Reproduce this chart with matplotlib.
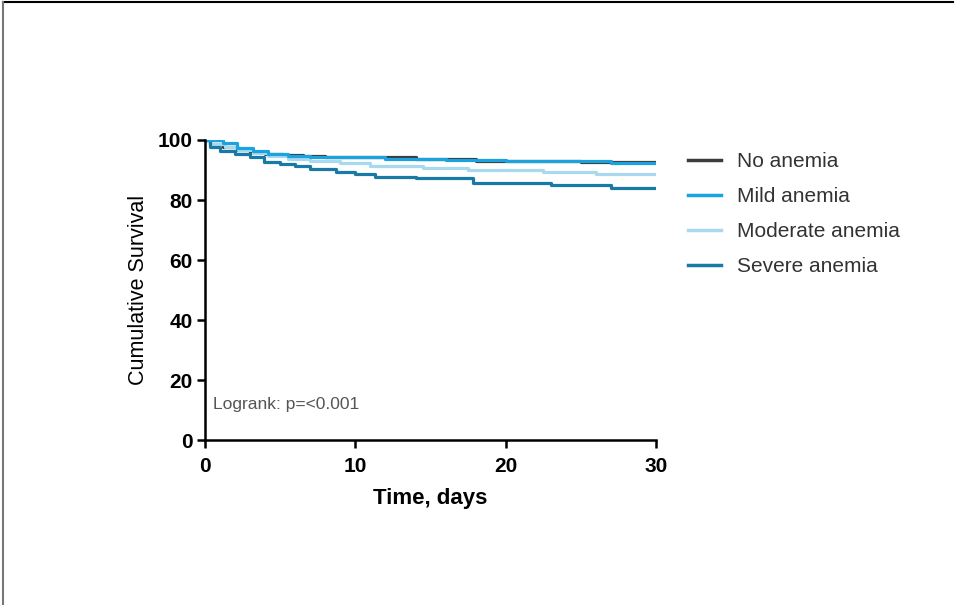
import matplotlib.pyplot as plt
from matplotlib.lines import Line2D

plt.rcParams['font.family'] = ['Liberation Sans', 'DejaVu Sans']

# Kaplan-Meier steps (days, % surviving)
t_none = [0, 0.3, 1.2, 2.1, 3.0, 4.0, 5.2, 6.5, 8.0, 10.5, 14.0, 18.0, 25.0, 30]
s_none = [100, 98.7, 97.8, 96.5, 96.0, 95.4, 95.0, 94.7, 94.4, 94.2, 93.6, 93.0, 92.8, 92.6]

t_mild = [0, 1.2, 2.1, 3.2, 4.2, 5.5, 7.0, 9.0, 12.0, 16.0, 20.0, 27.0, 30]
s_mild = [100, 99.1, 97.3, 96.2, 95.4, 94.8, 94.4, 94.2, 93.8, 93.4, 93.0, 92.4, 92.3]

t_mod = [0, 0.3, 1.3, 2.2, 3.2, 4.2, 5.5, 7.0, 9.0, 11.0, 14.5, 17.5, 22.5, 26.0, 30]
s_mod = [100, 98.6, 97.8, 96.6, 95.6, 94.6, 93.8, 93.0, 92.2, 91.3, 90.6, 90.0, 89.2, 88.6, 88.3]

t_sev = [0, 0.3, 1.0, 2.0, 3.0, 3.9, 5.0, 6.0, 7.0, 8.7, 10.0, 11.3, 14.0, 17.8, 23.0, 27.0, 30]
s_sev = [100, 97.6, 96.3, 95.2, 94.2, 92.8, 92.0, 91.2, 90.3, 89.4, 88.5, 87.7, 87.2, 85.8, 85.0, 84.1, 84.0]

labels = ['No anemia', 'Mild anemia', 'Moderate anemia', 'Severe anemia']
colors = ['#3c3c3c', '#1aa3de', '#a9d9ef', '#1a7aa6']

fig = plt.figure(figsize=(9.55, 6.05), dpi=100)
ax = fig.add_axes([0.2147, 0.2727, 0.4723, 0.4959])

series = [(t_none, s_none), (t_mod, s_mod), (t_sev, s_sev), (t_mild, s_mild)]
order = [0, 2, 3, 1]
for (t, s), i in zip(series, order):
    ax.step(t, s, where='post', color=colors[i], lw=2.3, solid_capstyle='butt')

ax.set_xlim(0, 30)
ax.set_ylim(0, 100)
ax.set_xticks([0, 10, 20, 30])
ax.set_yticks([0, 20, 40, 60, 80, 100])
for side in ['top', 'right']:
    ax.spines[side].set_visible(False)
for side in ['left', 'bottom']:
    ax.spines[side].set_linewidth(1.8)
ax.tick_params(direction='out', length=6, width=1.8, labelsize=15)
ax.tick_params(axis='x', pad=6)
ax.tick_params(axis='y', pad=3)
for lab in ax.get_xticklabels() + ax.get_yticklabels():
    lab.set_fontweight('bold')
ax.set_xlabel('Time, days', fontsize=16, fontweight='bold', labelpad=9)
ax.set_ylabel('Cumulative Survival', fontsize=15.5, labelpad=6)

ax.text(0.5, 10.5, 'Logrank: p=<0.001', fontsize=12.5, color='#555555')

handles = [Line2D([], [], color=c, lw=2.5) for c in colors]
fig.legend(handles, labels, loc='upper left', bbox_to_anchor=(0.7005, 0.78),
           frameon=False, fontsize=15, handlelength=1.6, handletextpad=0.75,
           labelspacing=0.77, labelcolor='#333333')

# thin frame at the image edge
fig.add_artist(Line2D([0.003, 0.998], [0.9965, 0.9965], color='black', lw=1.5))
fig.add_artist(Line2D([0.0035, 0.0035], [0.0, 0.9965], color='#777777', lw=1.5))

fig.savefig('out.png', dpi=100)
